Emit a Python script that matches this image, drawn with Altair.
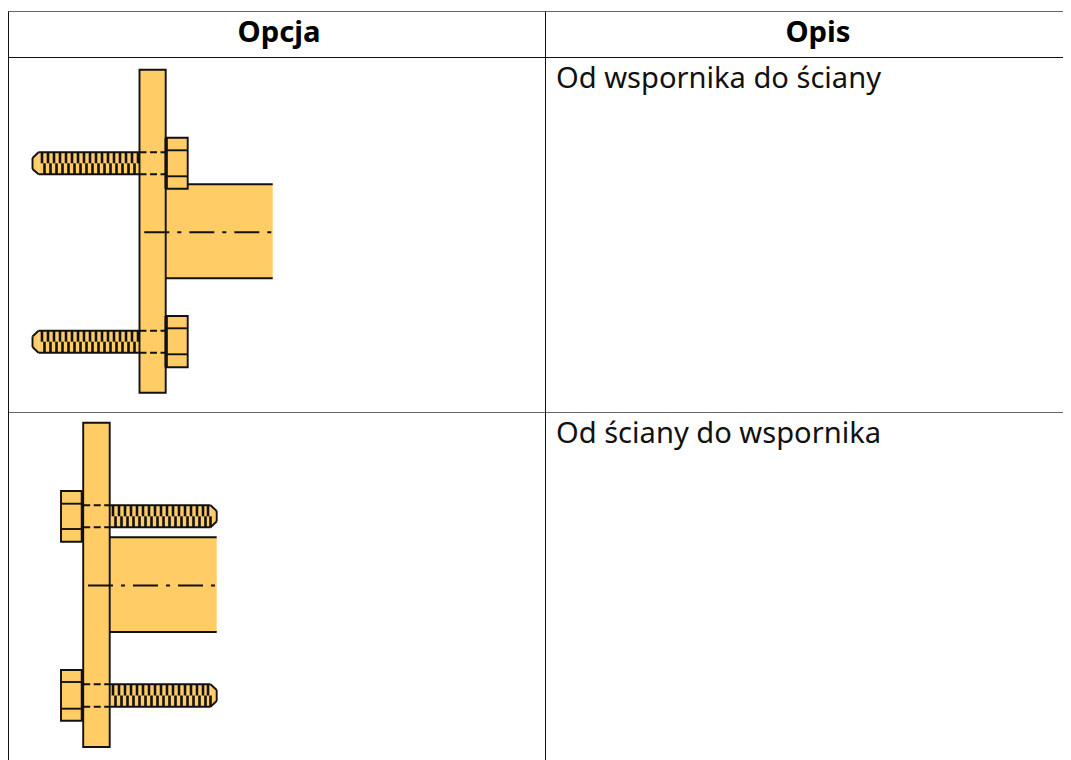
import altair as alt
import pandas as pd

FILL = "#FFCC66"
INK = "#111111"
LINE_W = 1.9

# table
GRID_X0 = [8, 8, 8, 8.5, 545.5]
GRID_X1 = [1063, 1063, 1063, 8.5, 545.5]
GRID_Y0 = [11.5, 57.5, 412.5, 11.5, 11.5]
GRID_Y1 = [11.5, 57.5, 412.5, 760, 760]
GRID_C = ["#666666", "#111111", "#666666", "#111111", "#111111"]

HEAD_TXT = ["Opcja", "Opis"]
HEAD_X = [279, 818]
HEAD_Y = [41.5, 41.5]
BODY_TXT = ["Od wspornika do ściany", "Od ściany do wspornika"]
BODY_X = [556, 556]
BODY_Y = [87.5, 442.5]

# tube fills (no side strokes)
TUBE_X0 = [166, 110]
TUBE_X1 = [272.7, 216.7]
TUBE_Y0 = [184.3, 537.3]
TUBE_Y1 = [278.3, 632]

# tube top and bottom edges
EDGE_X0 = [166, 166, 110, 110]
EDGE_X1 = [272.7, 272.7, 216.7, 216.7]
EDGE_Y = [184.3, 278.3, 537.3, 632]

# bolt shanks
SHANK_X0 = [38.5, 38.5, 110, 110]
SHANK_X1 = [139.5, 139.5, 210.5, 210.5]
SHANK_Y0 = [152.3, 330.7, 505.3, 684.3]
SHANK_Y1 = [174.3, 352.7, 527.3, 706.7]

# plates and nuts
BOX_X0 = [139.5, 83.2, 166.7, 166.7, 61, 61]
BOX_X1 = [165.7, 109.7, 187.7, 187.7, 81.7, 81.7]
BOX_Y0 = [69.7, 422.7, 137.7, 316, 491, 670]
BOX_Y1 = [392.7, 747, 188.7, 367.3, 541.7, 720.7]

# nut chamfer lines and heavy nut seats
SEG_X0 = [166.7, 166.7, 166.7, 166.7, 61, 61, 61, 61, 166, 166, 82.5, 82.5]
SEG_X1 = [187.7, 187.7, 187.7, 187.7, 81.7, 81.7, 81.7, 81.7, 166, 166, 82.5, 82.5]
SEG_Y0 = [150.3, 176.3, 328.3, 354.3, 503.7, 529, 682, 708.7, 137.7, 316, 491, 670]
SEG_Y1 = [150.3, 176.3, 328.3, 354.3, 503.7, 529, 682, 708.7, 188.7, 367.3, 541.7, 720.7]
SEG_W = [1.9, 1.9, 1.9, 1.9, 1.9, 1.9, 1.9, 1.9, 3, 3, 3, 3]

# hidden bolt lines through the plates
HID_X0 = [139.5, 139.5, 139.5, 139.5, 83.2, 83.2, 83.2, 83.2]
HID_X1 = [165.7, 165.7, 165.7, 165.7, 109.7, 109.7, 109.7, 109.7]
HID_Y = [152.3, 174.3, 330.7, 352.7, 505.3, 527.3, 684.3, 706.7]

# centre lines
AXIS_X0 = [144.3, 88]
AXIS_X1 = [273, 217]
AXIS_Y = [232.3, 585.5]

# bolt tips
TIP_BASE = [38.5, 38.5, 210.5, 210.5]
TIP_END = [32.5, 32.5, 216.7, 216.7]
TIP_TOP = [152.3, 330.7, 505.3, 684.3]
TIP_BOT = [174.3, 352.7, 527.3, 706.7]
TIP_END_TOP = [158, 336.5, 511, 690]
TIP_END_BOT = [169, 347, 521.5, 701]

# thread stripes, left bolts and right bolts
THREAD_L = [42, 48, 54, 60, 66, 72, 78, 84, 90, 96, 102, 108, 114, 120, 126, 132, 138]
THREAD_R = [113, 119, 125, 131, 137, 143, 149, 155, 161, 167, 173, 179, 185, 191, 197, 203, 208]
THREAD_SLIP = 2.5

xs = alt.Scale(domain=[8, 1063], range=[0, 1055], nice=False, zero=False)
ys = alt.Scale(domain=[8, 760], range=[0, 752], nice=False, zero=False)


def X(f):
    return alt.X(f + ":Q", scale=xs, axis=None)


def Y(f):
    return alt.Y(f + ":Q", scale=ys, axis=None)


def X2(f):
    return alt.X2(f)


def Y2(f):
    return alt.Y2(f)


def frame(**cols):
    return alt.Data(values=pd.DataFrame(cols).to_dict("records"))


grid = alt.Chart(frame(x0=GRID_X0, x1=GRID_X1, y0=GRID_Y0, y1=GRID_Y1, c=GRID_C)).mark_rule(strokeWidth=1).encode(
    x=X("x0"), x2=X2("x1"), y=Y("y0"), y2=Y2("y1"), color=alt.Color("c:N", scale=None)
)

tube = alt.Chart(frame(x0=TUBE_X0, x1=TUBE_X1, y0=TUBE_Y0, y1=TUBE_Y1)).mark_rect(color=FILL).encode(
    x=X("x0"), x2=X2("x1"), y=Y("y0"), y2=Y2("y1")
)

edges = alt.Chart(frame(x0=EDGE_X0, x1=EDGE_X1, y=EDGE_Y)).mark_rule(color=INK, strokeWidth=LINE_W).encode(
    x=X("x0"), x2=X2("x1"), y=Y("y")
)

tip = alt.Chart(frame(
    x=TIP_BASE + TIP_END,
    y0=TIP_TOP + TIP_END_TOP,
    y1=TIP_BOT + TIP_END_BOT,
    g=[0, 1, 2, 3, 0, 1, 2, 3],
)).mark_area(color=FILL).encode(x=X("x"), y=Y("y0"), y2=Y2("y1"), detail="g:N")

tip_top = alt.Chart(frame(x0=TIP_BASE, x1=TIP_END, y0=TIP_TOP, y1=TIP_END_TOP)).mark_rule(color=INK, strokeWidth=LINE_W).encode(
    x=X("x0"), x2=X2("x1"), y=Y("y0"), y2=Y2("y1"))
tip_bot = alt.Chart(frame(x0=TIP_BASE, x1=TIP_END, y0=TIP_BOT, y1=TIP_END_BOT)).mark_rule(color=INK, strokeWidth=LINE_W).encode(
    x=X("x0"), x2=X2("x1"), y=Y("y0"), y2=Y2("y1"))
tip_end = alt.Chart(frame(x=TIP_END, y0=TIP_END_TOP, y1=TIP_END_BOT)).mark_rule(color=INK, strokeWidth=LINE_W).encode(
    x=X("x"), y=Y("y0"), y2=Y2("y1"))

shanks = alt.Chart(frame(x0=SHANK_X0, x1=SHANK_X1, y0=SHANK_Y0, y1=SHANK_Y1)).mark_rect(color=FILL).encode(
    x=X("x0"), x2=X2("x1"), y=Y("y0"), y2=Y2("y1"))

shank_lines = alt.Chart(frame(
    x0=SHANK_X0 + SHANK_X0, x1=SHANK_X1 + SHANK_X1, y=SHANK_Y0 + SHANK_Y1
)).mark_rule(color=INK, strokeWidth=LINE_W).encode(x=X("x0"), x2=X2("x1"), y=Y("y"))

boxes = alt.Chart(frame(x0=BOX_X0, x1=BOX_X1, y0=BOX_Y0, y1=BOX_Y1)).mark_rect(
    color=FILL, stroke=INK, strokeWidth=LINE_W
).encode(x=X("x0"), x2=X2("x1"), y=Y("y0"), y2=Y2("y1"))

segs = alt.Chart(frame(x0=SEG_X0, x1=SEG_X1, y0=SEG_Y0, y1=SEG_Y1, w=SEG_W)).mark_rule(color=INK).encode(
    x=X("x0"), x2=X2("x1"), y=Y("y0"), y2=Y2("y1"),
    strokeWidth=alt.StrokeWidth("w:Q", scale=None),
)

threads = []
for xs_list, top, bot in [
    (THREAD_L, 152.3, 174.3),
    (THREAD_L, 330.7, 352.7),
    (THREAD_R, 505.3, 527.3),
    (THREAD_R, 684.3, 706.7),
]:
    mid = (top + bot) / 2
    threads.append(dict(x=xs_list, y0=[top] * len(xs_list), y1=[mid] * len(xs_list)))
    threads.append(dict(x=[v + THREAD_SLIP for v in xs_list], y0=[mid] * len(xs_list), y1=[bot] * len(xs_list)))
thread_df = pd.concat([pd.DataFrame(t) for t in threads])
thread = alt.Chart(alt.Data(values=thread_df.to_dict("records"))).mark_rule(color=INK, strokeWidth=2.6).encode(
    x=X("x"), y=Y("y0"), y2=Y2("y1")
)

hidden = alt.Chart(frame(x0=HID_X0, x1=HID_X1, y=HID_Y)).mark_rule(
    color=INK, strokeWidth=LINE_W, strokeDash=[7, 3.5]
).encode(x=X("x0"), x2=X2("x1"), y=Y("y"))

axis_line = alt.Chart(frame(x0=AXIS_X0, x1=AXIS_X1, y=AXIS_Y)).mark_rule(
    color=INK, strokeWidth=LINE_W, strokeDash=[25, 8, 4, 8]
).encode(x=X("x0"), x2=X2("x1"), y=Y("y"))

head = alt.Chart(frame(t=HEAD_TXT, x=HEAD_X, y=HEAD_Y)).mark_text(
    font="Noto Sans", fontSize=29.3, fontWeight="bold", align="center", baseline="alphabetic", color="#000000"
).encode(x=X("x"), y=Y("y"), text="t:N")

body = alt.Chart(frame(t=BODY_TXT, x=BODY_X, y=BODY_Y)).mark_text(
    font="Noto Sans", fontSize=29.1, align="left", baseline="alphabetic", color="#111111"
).encode(x=X("x"), y=Y("y"), text="t:N")

chart = alt.layer(
    grid, tube, edges, tip, shanks, thread, shank_lines, tip_top, tip_bot, tip_end,
    boxes, segs, hidden, axis_line, head, body
).properties(
    width=1055, height=752, padding=0, autosize=alt.AutoSizeParams(type="none")
).configure_view(stroke=None)

chart.save("out.html", embed_options={"renderer": "svg", "actions": False})
